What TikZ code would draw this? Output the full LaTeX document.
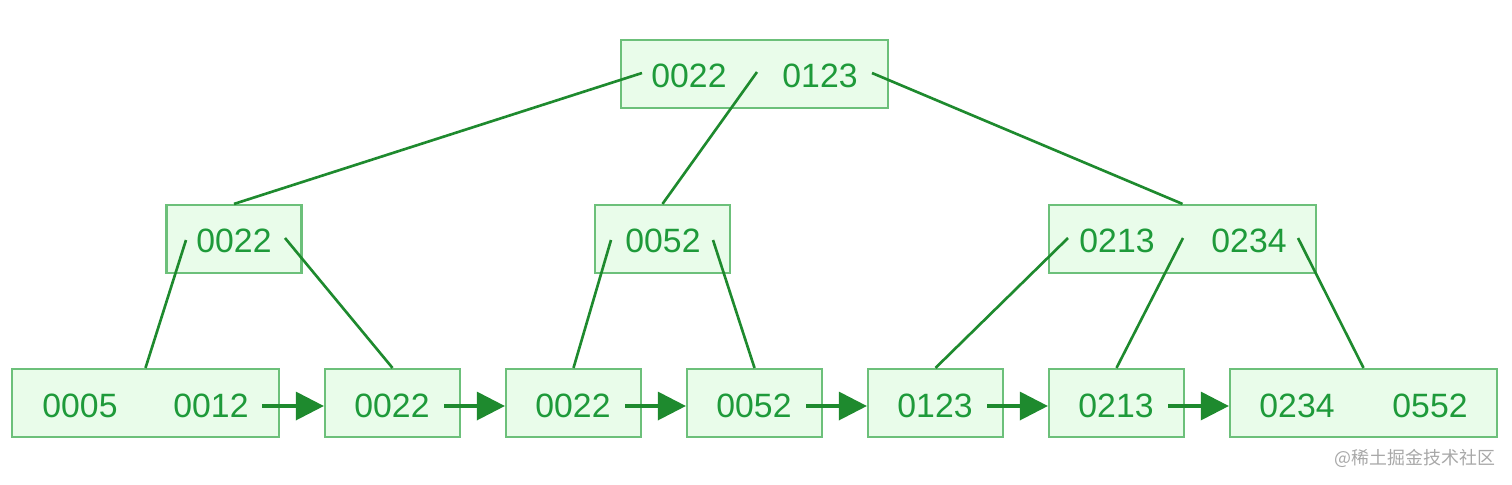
\documentclass[tikz,border=0pt]{standalone}
\usepackage{fontspec}
\setmainfont{Liberation Sans}
\newfontfamily\cjk{Noto Sans CJK SC}
\usetikzlibrary{arrows.meta}
\definecolor{boxfill}{HTML}{E9FCEA}
\definecolor{boxline}{HTML}{6CC07A}
\definecolor{keytext}{HTML}{1E9A3A}
\definecolor{linkcol}{HTML}{1E8A2E}
\definecolor{wmark}{HTML}{A8A8A8}
\tikzset{
  x=0.01cm, y=-0.01cm,
  bbox/.style={draw=boxline, fill=boxfill, line width=0.6pt, inner sep=0pt, minimum height=0.68cm},
  wide/.style={bbox, minimum width=2.67cm},
  narrow/.style={bbox, minimum width=1.35cm},
  key/.style={text=keytext, font=\fontsize{9.6}{11}\selectfont, inner sep=0pt},
  tree/.style={draw=linkcol, line width=0.75pt},
  chain/.style={draw=linkcol, line width=0.9pt, -{Triangle[length=8pt,width=8pt]}}
}
\begin{document}
\begin{tikzpicture}
\useasboundingbox (0,0) rectangle (1512,484);
% boxes
\node[wide]   (root) at (754.5,74) {};
\node[narrow] (mL) at (234,239) {};
\node[narrow] (mC) at (662.5,239) {};
\node[wide]   (mR) at (1182.5,239) {};
\node[wide]   (L1) at (145.5,403) {};
\node[narrow] (L2) at (392.5,403) {};
\node[narrow] (L3) at (573.5,403) {};
\node[narrow] (L4) at (754.5,403) {};
\node[narrow] (L5) at (935.5,403) {};
\node[narrow] (L6) at (1116.5,403) {};
\node[wide]   (L7) at (1363.5,403) {};
% keys
\node[key] (r1) at (689,76) {0022};
\node[key] (r2) at (820,76) {0123};
\node[key] (ml1) at (234,241) {0022};
\node[key] (mc1) at (663,241) {0052};
\node[key] (mr1) at (1117,241) {0213};
\node[key] (mr2) at (1249,241) {0234};
\node[key] (l11) at (80,406) {0005};
\node[key] (l12) at (211,406) {0012};
\node[key] (l21) at (392,406) {0022};
\node[key] (l31) at (573,406) {0022};
\node[key] (l41) at (754,406) {0052};
\node[key] (l51) at (935,406) {0123};
\node[key] (l61) at (1116,406) {0213};
\node[key] (l71) at (1297,406) {0234};
\node[key] (l72) at (1430,406) {0552};
% pointer starts
\coordinate (pr0) at (642,73);
\coordinate (pr1) at (757,72);
\coordinate (pr2) at (872,73);
\coordinate (pl0) at (186,240);
\coordinate (pl1) at (285,238);
\coordinate (pc0) at (611,240);
\coordinate (pc1) at (713,240);
\coordinate (pm0) at (1068,238);
\coordinate (pm1) at (1183,238);
\coordinate (pm2) at (1298,238);
\coordinate (a1) at (262,406);
\coordinate (a2) at (444,406);
\coordinate (a3) at (625,406);
\coordinate (a4) at (806,406);
\coordinate (a5) at (987,406);
\coordinate (a6) at (1168,406);
% tree links
\draw[tree] (pr0) -- (mL.north);
\draw[tree] (pr1) -- (mC.north);
\draw[tree] (pr2) -- (mR.north);
\draw[tree] (pl0) -- (L1.north);
\draw[tree] (pl1) -- (L2.north);
\draw[tree] (pc0) -- (L3.north);
\draw[tree] (pc1) -- (L4.north);
\draw[tree] (pm0) -- (L5.north);
\draw[tree] (pm1) -- (L6.north);
\draw[tree] (pm2) -- (L7.north);
% leaf chain
\draw[chain] (a1) -- (a1 -| L2.west);
\draw[chain] (a2) -- (a2 -| L3.west);
\draw[chain] (a3) -- (a3 -| L4.west);
\draw[chain] (a4) -- (a4 -| L5.west);
\draw[chain] (a5) -- (a5 -| L6.west);
\draw[chain] (a6) -- (a6 -| L7.west);
% watermark
\node[text=wmark, font=\cjk\fontsize{5.1}{6}\selectfont, inner sep=0pt] (wm) at (1415,458) {@稀土掘金技术社区};
\end{tikzpicture}
\end{document}
